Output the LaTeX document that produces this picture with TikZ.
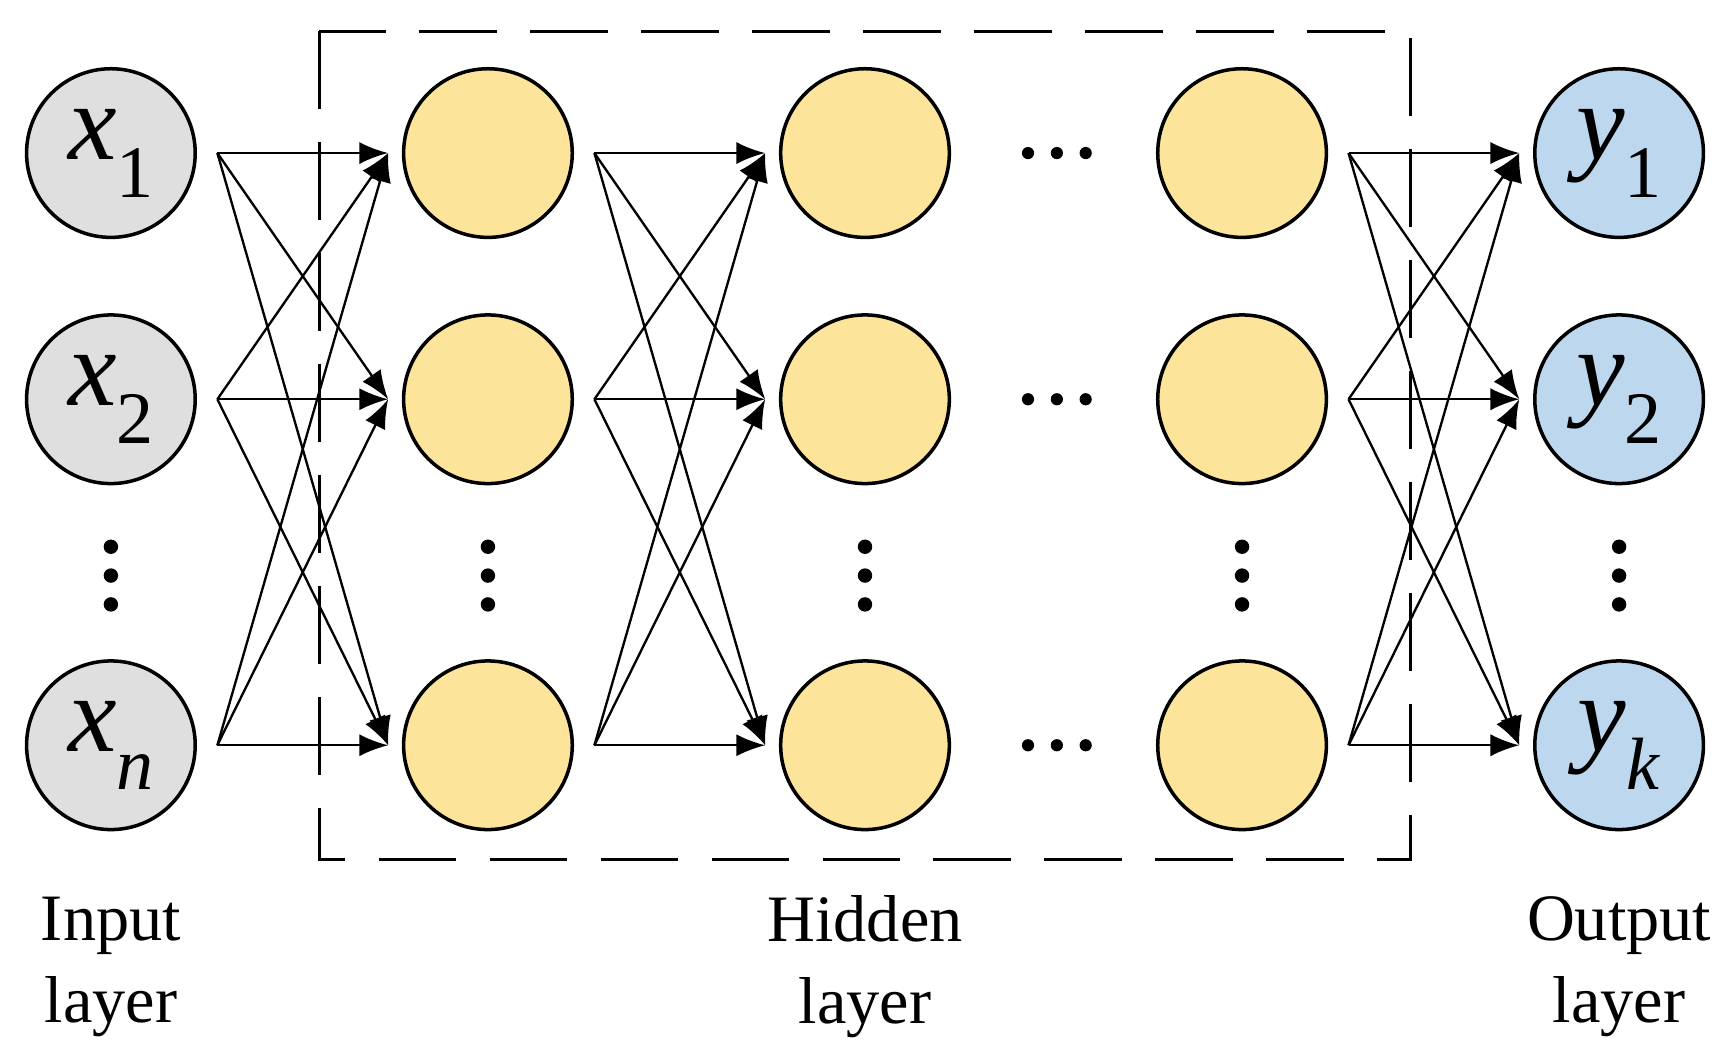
\documentclass[tikz,border=0pt]{standalone}
\usepackage{fontspec}
\setmainfont{Liberation Serif}
\usetikzlibrary{arrows.meta}
\begin{document}
\begin{tikzpicture}[x=0.01cm,y=-0.01cm,
  neuron/.style={circle,draw,line width=0.9pt,minimum size=1.52cm,inner sep=0pt,font=\fontsize{28}{28}\selectfont},
  inp/.style={neuron,fill=gray!25},
  hid/.style={neuron,fill={rgb,255:red,252;green,228;blue,154}},
  outp/.style={neuron,fill={rgb,255:red,189;green,215;blue,238}},
  arr/.style={-{Latex[length=2.6mm,width=2mm]},line width=0.6pt},
  dot/.style={circle,fill,inner sep=0pt,minimum size=1.3mm},
  lab/.style={font=\fontsize{17}{21}\selectfont,align=center}]
\useasboundingbox (0,0) rectangle (1560,956);
\draw[dashed,line width=0.8pt,dash pattern=on 7mm off 3mm] (288,28) rectangle (1272,775);
\newcommand{\sub}[2]{\textit{#1}\raisebox{-0.35em}{\fontsize{19}{19}\selectfont #2}}
\node[inp] (c1r1) at (100,138) {\sub{x}{1}};
\node[inp] (c1r2) at (100,360) {\sub{x}{2}};
\node[inp] (c1r3) at (100,672) {\sub{x}{\textit{n}}};
\node[outp] (c5r1) at (1460,138) {\sub{y}{1}};
\node[outp] (c5r2) at (1460,360) {\sub{y}{2}};
\node[outp] (c5r3) at (1460,672) {\sub{y}{\textit{k}}};
\foreach \c/\x in {2/440,3/780,4/1120}{
  \node[hid] (c\c r1) at (\x,138) {};
  \node[hid] (c\c r2) at (\x,360) {};
  \node[hid] (c\c r3) at (\x,672) {};}
\foreach \c/\x in {1/100,2/440,3/780,4/1120,5/1460}{
  \foreach \r/\y in {1/138,2/360,3/672}{
    \coordinate (s\c r\r) at (\x+96,\y);
    \coordinate (t\c r\r) at (\x-90,\y);}
  \node[dot] (va\c) at (\x,493) {};
  \node[dot] (vb\c) at (\x,519) {};
  \node[dot] (vc\c) at (\x,545) {};}
\foreach \r/\y in {1/138,2/360,3/672}{
  \node[dot,minimum size=1.1mm] (ha\r) at (927,\y) {};
  \node[dot,minimum size=1.1mm] (hb\r) at (953,\y) {};
  \node[dot,minimum size=1.1mm] (hc\r) at (979,\y) {};}
\foreach \a/\b in {1/2,2/3,4/5}{
  \foreach \i in {1,2,3}{\foreach \j in {1,2,3}{
    \draw[arr] (s\a r\i) -- (t\b r\j);}}}
\node[lab] (l1) at (100,872) {Input\\layer};
\node[lab] (l2) at (780,872) {Hidden\\layer};
\node[lab] (l3) at (1460,872) {Output\\layer};
\end{tikzpicture}
\end{document}
